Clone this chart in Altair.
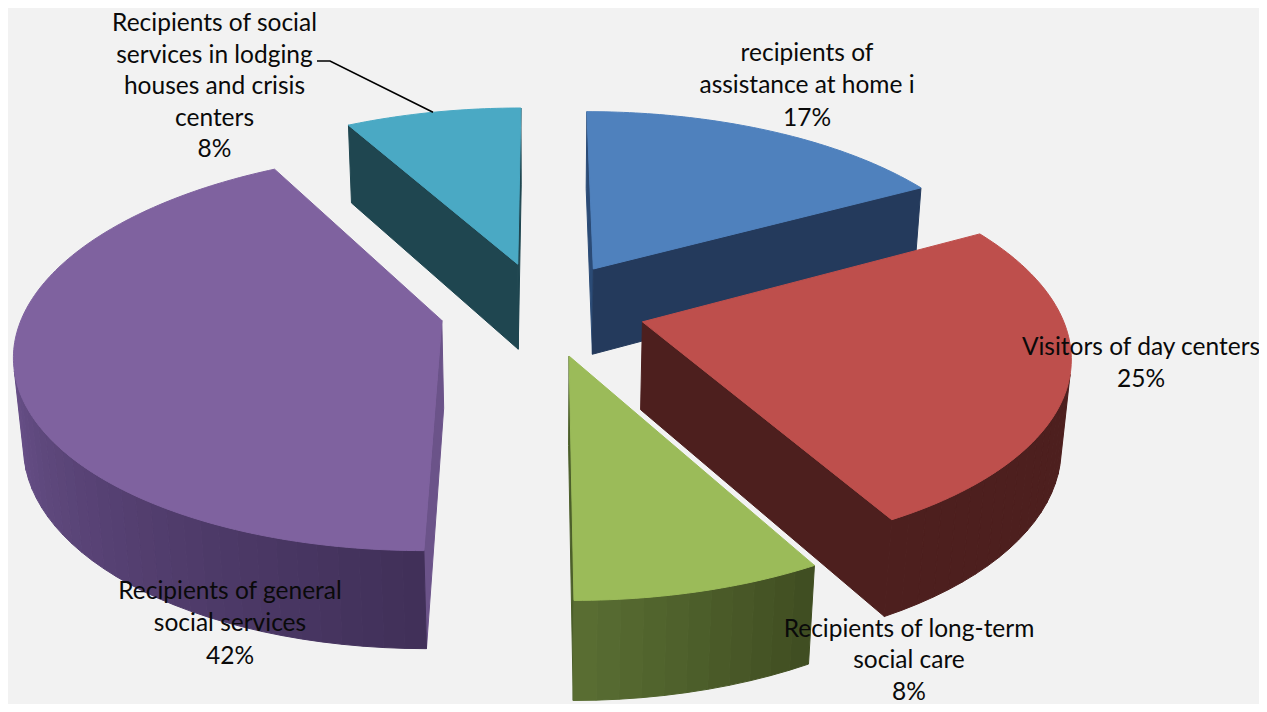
import math
import altair as alt
import pandas as pd

# ---- values -----------------------------------------------------------------
categories = ["recipients of\nassistance at home i", "Visitors of day centers",
              "Recipients of long-term\nsocial care", "Recipients of general\nsocial services",
              "Recipients of social\nservices in lodging\nhouses and crisis\ncenters"]
shares = [17, 25, 8, 42, 8]

# ---- styling ----------------------------------------------------------------
top_colors = ["#4F81BD", "#BE4F4C", "#9BBB59", "#7F629F", "#4AA9C4"]
start_face = ["#2B4B76", "#4D1F1E", "#4C5F2A", "#6B5389", "#1F4650"]
end_face = ["#243A5C", "#4D1F1E", "#4C5F2A", "#1F4650", "#1F4650"]
arc_from = ["#243A5C", "#4D1F1E", "#3F4C21", "#402F58", "#1F4650"]   # shade at the arc's first angle
arc_to = ["#243A5C", "#4D1F1E", "#5A6F33", "#8D6EB5", "#1F4650"]     # shade at the arc's last angle
paint_order = [4, 0, 1, 3, 2]
label_xy = [(807, 54), (1141, 348), (909, 630), (230, 592), (214.5, 24)]
label_step = [32.4, 32.4, 31.4, 32.4, 31.6]
BG = "#F2F2F2"

# ---- 3-D exploded pie model ---------------------------------------------------
X0, Y0 = 542.5, 308.5
R, EXPLODE, H = 417.0, 103.0, 100.0
SIN_T, COS_T = 0.46, 0.888
D = 2472.0


def project(u, v, z):
    d = D + v * COS_T - z * SIN_T
    return X0 + u * D / d, Y0 - (v * SIN_T + z * COS_T) * D / d


def mix(a, b, t):
    ca = [int(a[i:i + 2], 16) for i in (1, 3, 5)]
    cb = [int(b[i:i + 2], 16) for i in (1, 3, 5)]
    return "#" + "".join(f"{round(p + (q - p) * t):02x}" for p, q in zip(ca, cb))


def area(points):
    return sum(p[0] * q[1] - q[0] * p[1] for p, q in zip(points, points[1:] + points[:1]))


starts = [sum(shares[:i]) * 3.6 for i in range(len(shares))]
rows = []
poly_no = [0]


def add(points, color):
    poly_no[0] += 1
    for i, (x, y) in enumerate(points):
        rows.append({"poly": f"p{poly_no[0]:04d}", "i": i, "x": x, "y": y, "color": color})


def add_if_front(points, color):
    # screen y points down: front faces of this winding have a positive area
    if area(points) > 0:
        add(points, color)


for k in paint_order:
    a0 = starts[k]
    a1 = a0 + shares[k] * 3.6
    mid = math.radians((a0 + a1) / 2)
    ou, ov = EXPLODE * math.sin(mid), EXPLODE * math.cos(mid)

    def rim(deg, z):
        t = math.radians(deg)
        return project(ou + R * math.sin(t), ov + R * math.cos(t), z)

    apex_top, apex_bot = project(ou, ov, 0), project(ou, ov, -H)
    # radial faces
    add_if_front([apex_top, apex_bot, rim(a0, -H), rim(a0, 0)], start_face[k])
    add_if_front([apex_top, rim(a1, 0), rim(a1, -H), apex_bot], end_face[k])
    # rim, as thin shaded strips
    n = max(6, int((a1 - a0) / 2.5))
    for j in range(n):
        b0, b1 = a0 + (a1 - a0) * j / n, a0 + (a1 - a0) * (j + 1) / n
        add_if_front([rim(b0, 0), rim(b0, -H), rim(b1, -H), rim(b1, 0)],
                      mix(arc_from[k], arc_to[k], (j + 0.5) / n))
    # top
    steps = int(a1 - a0) + 1
    add([apex_top] + [rim(a0 + (a1 - a0) * j / steps, 0) for j in range(steps + 1)], top_colors[k])

polys = pd.DataFrame(rows)

# ---- labels -------------------------------------------------------------------
text_rows = []
for cat, share, (lx, ly), step in zip(categories, shares, label_xy, label_step):
    for n, line in enumerate(cat.split("\n") + [f"{share}%"]):
        text_rows.append({"x": lx, "y": ly + n * step, "t": line})
texts = pd.DataFrame(text_rows)

# leader line of the last slice, ending on its rim
t_mid = math.radians(starts[4] + shares[4] * 3.6 * 0.5)
mid4 = math.radians(starts[4] + shares[4] * 1.8)
end = project(EXPLODE * math.sin(mid4) + R * math.sin(t_mid), EXPLODE * math.cos(mid4) + R * math.cos(t_mid), 0)
leader = pd.DataFrame({"x": [317, 330, end[0]], "y": [61, 61, end[1]], "i": [0, 1, 2]})

# ---- chart ---------------------------------------------------------------------
x_s = alt.Scale(domain=[8, 1259], nice=False, zero=False)
y_s = alt.Scale(domain=[704, 8], nice=False, zero=False)
x = alt.X("x:Q", scale=x_s, axis=None)
y = alt.Y("y:Q", scale=y_s, axis=None)

shapes = alt.Chart(polys).mark_line(filled=True, interpolate="linear-closed", strokeWidth=1.0, clip=True).encode(
    x=x, y=y, detail="poly:N", order="i:Q",
    fill=alt.Fill("color:N", scale=None), stroke=alt.Stroke("color:N", scale=None))

lead = alt.Chart(leader).mark_line(color="#000000", strokeWidth=1.6).encode(x=x, y=y, order="i:Q")

labels = alt.Chart(texts).mark_text(font="Lato", fontSize=24.5, color="#0A0A0A", align="center",
                                    baseline="middle").encode(x=x, y=y, text="t:N")

chart = alt.layer(shapes, lead, labels).properties(
    width=1251, height=696, background=BG, padding=0,
    autosize=alt.AutoSizeParams(type="none")
).configure_view(stroke=None)

chart.save("out.html", embed_options={"renderer": "svg", "actions": False})
